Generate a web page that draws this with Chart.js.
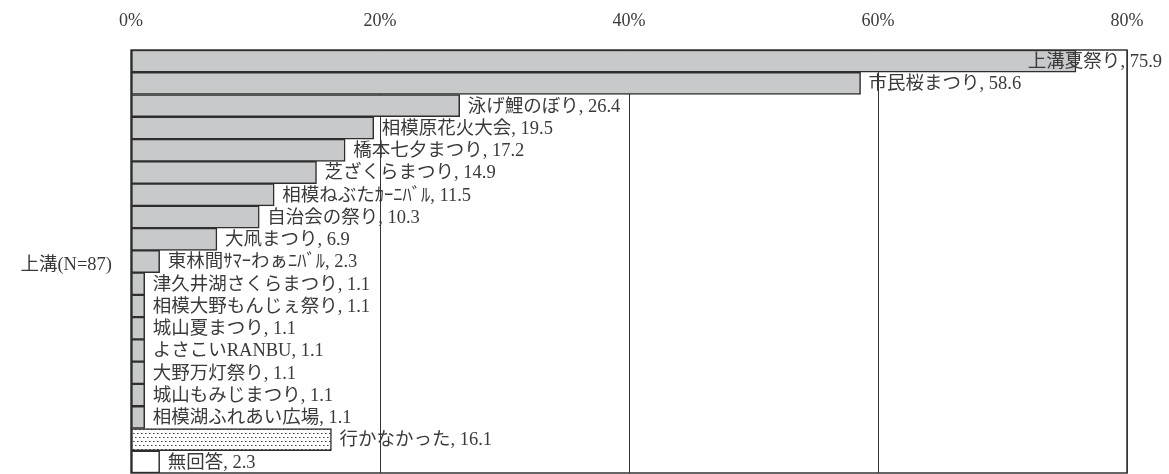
<!DOCTYPE html>
<html>
<head>
<meta charset="utf-8">
<script src="https://cdn.jsdelivr.net/npm/chart.js@4/dist/chart.umd.min.js"></script>
<style>
html,body{margin:0;padding:0;background:#fff;}
#wrap{width:1169px;height:474px;position:relative;}
</style>
</head>
<body>
<div id="wrap"><canvas id="c" width="1169" height="474"></canvas></div>
<script>
const groupLabel = '上溝(N=87)';
const categories = ['上溝夏祭り','市民桜まつり','泳げ鯉のぼり','相模原花火大会','橋本七夕まつり','芝ざくらまつり','相模ねぶたｶｰﾆﾊﾞﾙ','自治会の祭り','大凧まつり','東林間ｻﾏｰわぁﾆﾊﾞﾙ','津久井湖さくらまつり','相模大野もんじぇ祭り','城山夏まつり','よさこいRANBU','大野万灯祭り','城山もみじまつり','相模湖ふれあい広場','行かなかった','無回答'];
const values = [75.9,58.6,26.4,19.5,17.2,14.9,11.5,10.3,6.9,2.3,1.1,1.1,1.1,1.1,1.1,1.1,1.1,16.1,2.3];
const barKinds = ['gray','gray','gray','gray','gray','gray','gray','gray','gray','gray','gray','gray','gray','gray','gray','gray','gray','dots','white'];
const xTicks = [0,20,40,60,80];

const FONT = '"Liberation Serif", "Noto Sans CJK JP", serif';
const TEXT = '#3a3a3a';

function dotPattern(){
  const p = document.createElement('canvas');
  p.width = 4; p.height = 8;
  const g = p.getContext('2d');
  g.fillStyle = '#ffffff'; g.fillRect(0,0,4,8);
  g.fillStyle = '#444444';
  g.fillRect(1,1,1,1);
  g.fillRect(3,5,1,1);
  g.fillStyle = '#999999';
  g.fillRect(2,1,1,1);
  g.fillRect(0,5,1,1);
  return document.getElementById('c').getContext('2d').createPattern(p,'repeat');
}
const pat = dotPattern();
const fills = barKinds.map(k => k==='gray' ? '#c8c9cb' : (k==='dots' ? pat : '#ffffff'));

const decor = {
  id:'decor',
  beforeDatasetsDraw(chart){
    const {ctx, chartArea:a} = chart;
    ctx.save();
    ctx.strokeStyle = '#333';
    ctx.lineWidth = 1.5;
    ctx.strokeRect(a.left, a.top, a.right-a.left, a.bottom-a.top);
    ctx.restore();
  },
  afterDatasetsDraw(chart){
    const {ctx, chartArea:a} = chart;
    const meta = chart.getDatasetMeta(0);
    ctx.save();
    ctx.font = '18.5px ' + FONT;
    ctx.fillStyle = TEXT;
    ctx.textBaseline = 'middle';
    ctx.textAlign = 'left';
    meta.data.forEach((bar,i)=>{
      const txt = categories[i] + ', ' + values[i].toFixed(1);
      const w = ctx.measureText(txt).width;
      let x = bar.x + 8;
      if (x + w > chart.width - 7) x = chart.width - 7 - w;
      ctx.fillText(txt, x, bar.y + 1);
    });
    ctx.textAlign = 'right';
    ctx.fillText(groupLabel, a.left - 19, (a.top + a.bottom)/2 + 4);
    ctx.restore();
  }
};

new Chart(document.getElementById('c'), {
  type:'bar',
  data:{
    labels: categories,
    datasets:[{
      data: values,
      backgroundColor: fills,
      borderColor:'#2e2e2e',
      borderWidth:1.5,
      borderSkipped:false,
      barPercentage:1,
      categoryPercentage:1
    }]
  },
  options:{
    indexAxis:'y',
    responsive:false,
    animation:false,
    devicePixelRatio:1,
    layout:{padding:{left:131,right:42,top:0,bottom:1}},
    plugins:{legend:{display:false},tooltip:{enabled:false}},
    scales:{
      x:{
        position:'top',
        min:0,max:80,
        afterBuildTicks(s){ s.ticks = xTicks.map(v=>({value:v})); },
        afterFit(s){ s.height = 50; },
        ticks:{
          callback:v=>v+'%',
          font:{family:FONT,size:18},
          color:TEXT,
          padding:18,
          maxRotation:0
        },
        grid:{color:'#333',lineWidth:1,drawTicks:false},
        border:{display:false}
      },
      y:{
        display:false,
        grid:{display:false}
      }
    }
  },
  plugins:[decor]
});
</script>
</body>
</html>
